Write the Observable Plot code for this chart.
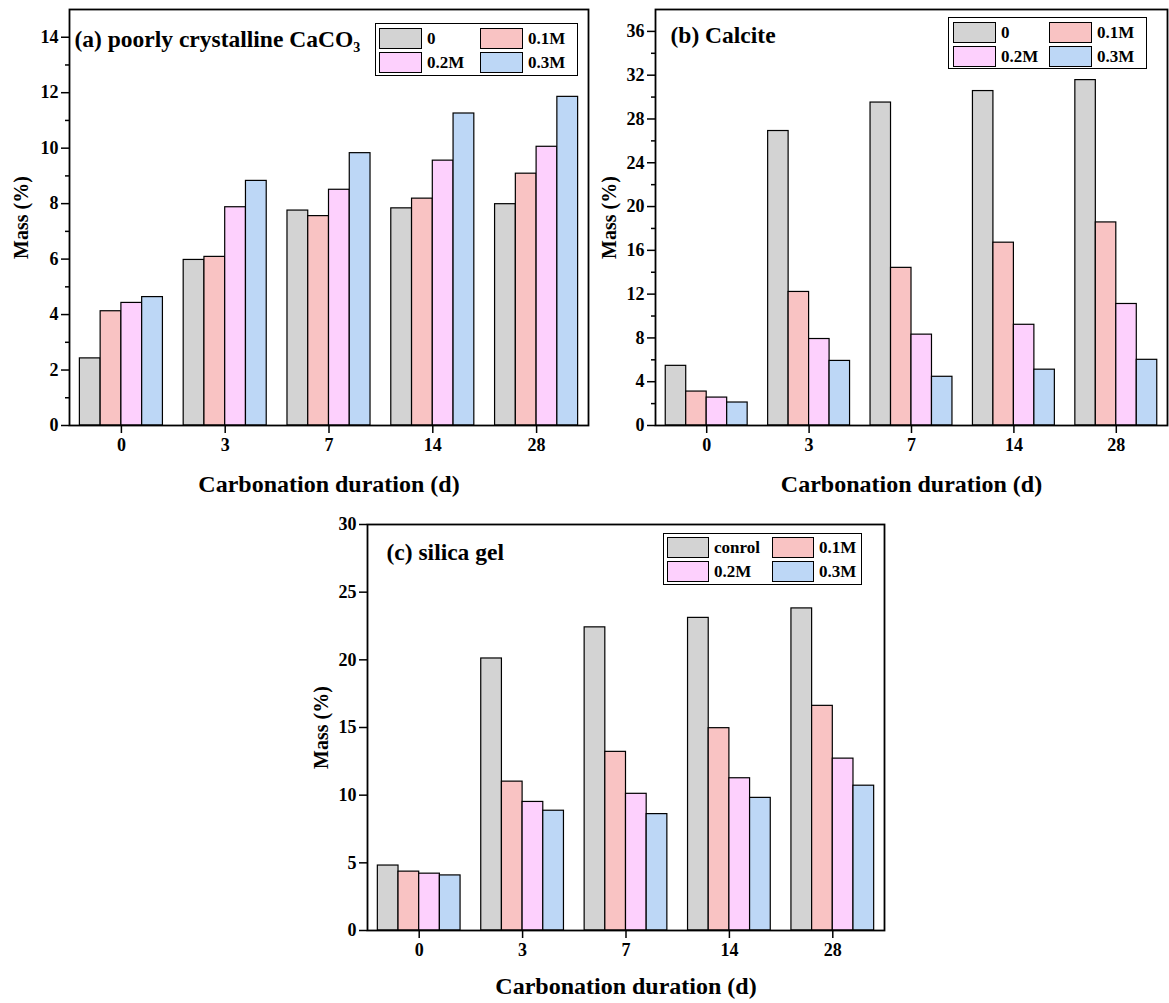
<!DOCTYPE html>
<html><head><meta charset="utf-8">
<script src="https://cdn.jsdelivr.net/npm/d3@7"></script>
<script src="https://cdn.jsdelivr.net/npm/@observablehq/plot@0.6"></script>
<style>
body{margin:0;background:#fff;}
#root{position:relative;width:1169px;height:1003px;overflow:hidden;font-family:"Liberation Serif","Times New Roman",serif;font-weight:bold;background:#fff;}
.panel{position:absolute;}
.legend{position:absolute;border:1px solid #000;background:#fff;display:grid;box-sizing:border-box;}
.sw{border:1.5px solid #000;box-sizing:border-box;}
.lt{font-size:17px;line-height:21px;padding-left:5px;white-space:nowrap;}
svg text{font-family:"Liberation Serif","Times New Roman",serif !important;font-weight:bold !important;}
g[aria-label="x-axis label"] text{font-size:24px;}
g[aria-label="y-axis label"] text{font-size:20px;}
</style></head><body><div id="root"></div>
<script>
// categories
const days = ["0", "3", "7", "14", "28"];
const seriesAB = ["0", "0.1M", "0.2M", "0.3M"];
const seriesC = ["conrol", "0.1M", "0.2M", "0.3M"];
const colors = ["#d3d3d3", "#f9c3c3", "#fdd0fd", "#bdd7f6"];

// (a) poorly crystalline CaCO3 — values per series across days
const a0   = [2.42, 5.97, 7.75, 7.83, 7.98];
const a01M = [4.12, 6.08, 7.55, 8.18, 9.08];
const a02M = [4.42, 7.87, 8.50, 9.55, 10.05];
const a03M = [4.63, 8.82, 9.82, 11.25, 11.85];

// (b) Calcite
const b0   = [5.45, 26.9, 29.5, 30.55, 31.55];
const b01M = [3.10, 12.2, 14.4, 16.7, 18.55];
const b02M = [2.55, 7.9, 8.3, 9.2, 11.1];
const b03M = [2.10, 5.9, 4.45, 5.1, 6.0];

// (c) silica gel
const c0   = [4.8, 20.1, 22.4, 23.1, 23.8];
const c01M = [4.35, 11.0, 13.2, 14.95, 16.6];
const c02M = [4.2, 9.5, 10.1, 11.25, 12.7];
const c03M = [4.07, 8.85, 8.6, 9.8, 10.7];

// tick values
const ticksA = [0, 2, 4, 6, 8, 10, 12, 14];
const minorA = [1, 3, 5, 7, 9, 11, 13];
const ticksB = [0, 4, 8, 12, 16, 20, 24, 28, 32, 36];
const minorB = [2, 6, 10, 14, 18, 22, 26, 30, 34];
const ticksC = [0, 5, 10, 15, 20, 25, 30];

const FONT = "Liberation Serif";
const root = document.getElementById("root");

function rowsOf(series) {
  const rows = [];
  series.forEach((vals, s) => vals.forEach((v, g) => rows.push({g, s, v})));
  return rows;
}

function panel(cfg) {
  const rows = rowsOf(cfg.series);
  const marks = [
    Plot.rectY(rows, {
      x1: d => d.g - 0.4 + d.s * 0.2,
      x2: d => d.g - 0.2 + d.s * 0.2,
      y1: 0, y2: "v", fill: "s", stroke: "black", strokeWidth: 1.2
    }),
    Plot.axisY({ticks: cfg.ticks, tickSize: 8, tickPadding: 3, fontSize: 18, fontWeight: "bold", fontFamily: FONT,
      strokeWidth: 1.5,
      label: "Mass (%)", labelAnchor: "center", labelArrow: "none", labelOffset: cfg.yLabelOffset}),
    Plot.axisX({ticks: [0, 1, 2, 3, 4], tickFormat: i => days[i], tickSize: 8, tickPadding: 5,
      fontSize: 18, fontWeight: "bold", fontFamily: FONT, strokeWidth: 1.5,
      label: "Carbonation duration (d)", labelAnchor: "center", labelArrow: "none", labelOffset: cfg.xLabelOffset}),
    Plot.frame({stroke: "black", strokeWidth: 1.8}),
    Plot.text([cfg.title], {frameAnchor: "top-left", dx: cfg.titleDx, dy: cfg.titleDy, fontFamily: FONT,
      textAnchor: "start", lineAnchor: "middle", fontSize: 23.5, fontWeight: "bold"})
  ];
  if (cfg.minor) marks.splice(2, 0, Plot.axisY({ticks: cfg.minor, tickSize: 4, strokeWidth: 1.5, tickFormat: () => "", label: null}));
  const chart = Plot.plot({
    width: cfg.width, height: cfg.height,
    marginLeft: cfg.ml, marginRight: cfg.mr, marginTop: cfg.mt, marginBottom: cfg.mb,
    style: {fontFamily: FONT, fontWeight: "bold", fontSize: "18px", color: "black", background: "transparent", overflow: "visible"},
    x: {domain: [-0.5, 4.5]},
    y: {domain: cfg.yDomain},
    color: {type: "ordinal", domain: [0, 1, 2, 3], range: colors},
    marks
  });
  const wrap = document.createElement("div");
  wrap.className = "panel";
  wrap.style.left = cfg.left + "px";
  wrap.style.top = cfg.top + "px";
  wrap.appendChild(chart);
  root.appendChild(wrap);
}

function legend(names, L) {
  const box = document.createElement("div");
  box.className = "legend";
  Object.assign(box.style, {left: L.left + "px", top: L.top + "px", width: L.w + "px", height: L.h + "px",
    padding: L.pad, gridTemplateColumns: L.cols, gridTemplateRows: "21px 21px", rowGap: "3px"});
  names.forEach((n, i) => {
    const sw = document.createElement("div");
    sw.className = "sw";
    sw.style.background = colors[i];
    const t = document.createElement("div");
    t.className = "lt";
    t.textContent = n;
    box.appendChild(sw);
    box.appendChild(t);
  });
  root.appendChild(box);
}

panel({left: 0, top: 0, width: 590, height: 500, ml: 69, mr: 2, mt: 9, mb: 75,
  yDomain: [0, 15], ticks: ticksA, minor: minorA, series: [a0, a01M, a02M, a03M],
  title: "(a) poorly crystalline CaCO₃", titleDx: 5, titleDy: 30, yLabelOffset: 56, xLabelOffset: 66});
panel({left: 590, top: 0, width: 579, height: 500, ml: 65, mr: 2, mt: 9, mb: 75,
  yDomain: [0, 38], ticks: ticksB, minor: minorB, series: [b0, b01M, b02M, b03M],
  title: "(b) Calcite", titleDx: 15, titleDy: 26, yLabelOffset: 54, xLabelOffset: 66});
panel({left: 300, top: 500, width: 590, height: 503, ml: 67, mr: 6, mt: 24, mb: 73,
  yDomain: [0, 30], ticks: ticksC, minor: null, series: [c0, c01M, c02M, c03M],
  title: "(c) silica gel", titleDx: 19, titleDy: 28, yLabelOffset: 54, xLabelOffset: 63});

legend(seriesAB, {left: 375, top: 23, w: 203, h: 53, pad: "4px 3px 3px 3px", cols: "43px 58px 43px 1fr"});
legend(seriesAB, {left: 948, top: 17, w: 199, h: 52, pad: "4px 3px 3px 4px", cols: "43px 53px 43px 1fr"});
legend(seriesC, {left: 663, top: 533, w: 199, h: 52, pad: "3px 3px 3px 3px", cols: "42px 63px 42px 1fr"});
</script></body></html>
